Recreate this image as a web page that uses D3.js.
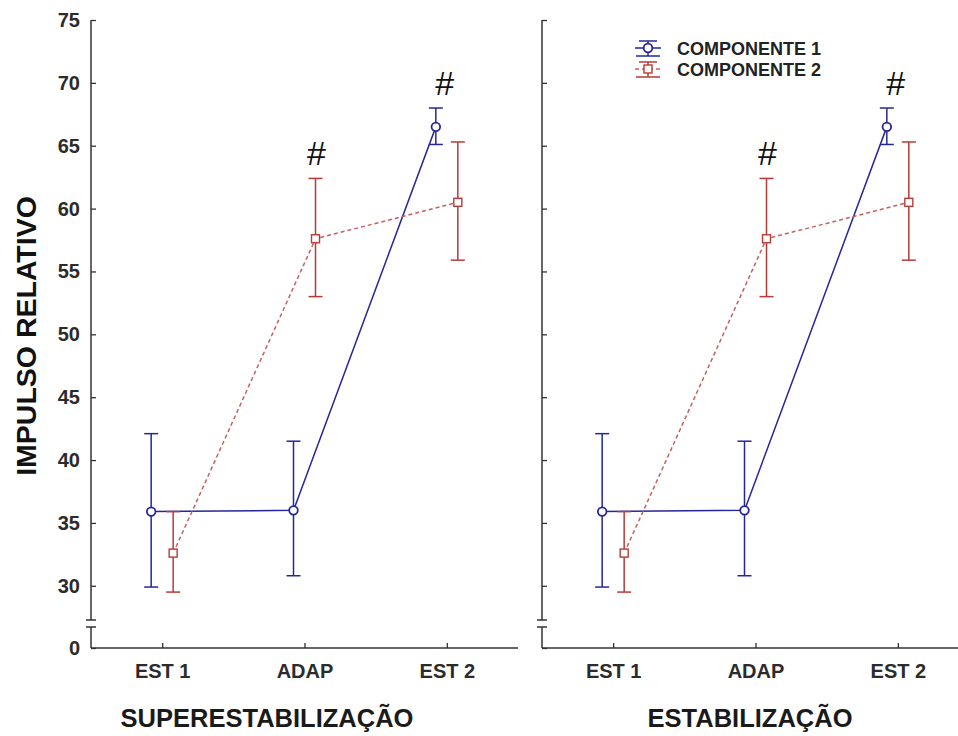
<!DOCTYPE html>
<html>
<head>
<meta charset="utf-8">
<script src="https://cdn.jsdelivr.net/npm/d3@7"></script>
<style>
  body { margin: 0; background: #fff; }
  svg { display: block; font-family: "Liberation Sans", Arial, sans-serif; }
  .tick text { font-weight: bold; fill: #2b2b2b; }
</style>
</head>
<body>
<svg id="graph" width="958" height="736"></svg>
<script>
// data
const categories = ["EST 1", "ADAP", "EST 2"];
const yTicks = [0, 30, 35, 40, 45, 50, 55, 60, 65, 70, 75];

const comp1Mean = [35.9, 36.0, 66.5];
const comp1Upper = [42.1, 41.5, 68.0];
const comp1Lower = [29.9, 30.8, 65.1];

const comp2Mean = [32.6, 57.6, 60.5];
const comp2Upper = [35.9, 62.4, 65.3];
const comp2Lower = [29.5, 53.0, 55.9];

const seriesNames = ["COMPONENTE 1", "COMPONENTE 2"];
const panelTitles = ["SUPERESTABILIZAÇÃO", "ESTABILIZAÇÃO"];
// "#" marks: category + which series it sits over
const sigMarks = [
  { cat: "ADAP", series: 1 },
  { cat: "EST 2", series: 0 },
];

const blue = "#26269a";
const red = "#b83a36";
const redLine = "#c46060";

const svg = d3.select("#graph");

// broken axis: 0 sits just under the break, the rest is linear from 30 up
const y = d3.scaleLinear().domain([0, 27.2, 75]).range([648, 621, 20]);

const series = [
  { name: seriesNames[0], mean: comp1Mean, up: comp1Upper, lo: comp1Lower, color: blue, line: blue, dash: null, shape: "circle", dx: -11 },
  { name: seriesNames[1], mean: comp2Mean, up: comp2Upper, lo: comp2Lower, color: red, line: redLine, dash: "4,3", shape: "square", dx: 11 },
];

const drawMarker = (g, shape, color, cx, cy) => {
  if (shape === "circle") {
    g.append("circle").attr("cx", cx).attr("cy", cy).attr("r", 4.3)
      .attr("fill", "#fff").attr("stroke", color).attr("stroke-width", 1.8);
  } else {
    g.append("rect").attr("x", cx - 4).attr("y", cy - 4).attr("width", 8).attr("height", 8)
      .attr("fill", "#fff").attr("stroke", color).attr("stroke-width", 1.4);
  }
};

const drawPanel = (left, right, xAxisEnd, showLabels, title, titleX) => {
  const g = svg.append("g");
  const x = d3.scalePoint().domain(categories).range([left, right]).padding(0.5);

  // y axis line with break
  g.append("line").attr("x1", left).attr("x2", left).attr("y1", y(75)).attr("y2", 620).attr("stroke", "#333").attr("stroke-width", 1.5);
  g.append("line").attr("x1", left).attr("x2", left).attr("y1", 627).attr("y2", y(0)).attr("stroke", "#333").attr("stroke-width", 1.5);
  [620, 627].forEach((by) => {
    g.append("line").attr("x1", left - 5).attr("x2", left + 5).attr("y1", by).attr("y2", by).attr("stroke", "#333").attr("stroke-width", 1.5);
  });

  const yAxis = d3.axisLeft(y).tickValues(yTicks).tickSize(-5).tickPadding(11)
    .tickFormat(showLabels ? d3.format("d") : "");
  const ya = g.append("g").attr("transform", `translate(${left},0)`).call(yAxis);
  ya.select(".domain").remove();
  ya.selectAll(".tick line").attr("stroke", "#333").attr("stroke-width", 1.3);
  ya.selectAll(".tick text").style("font-size", "20px");

  // x axis
  g.append("line").attr("x1", left).attr("x2", xAxisEnd).attr("y1", y(0)).attr("y2", y(0)).attr("stroke", "#333").attr("stroke-width", 1.5);
  const xAxis = d3.axisBottom(x).tickSize(-5).tickPadding(16);
  const xa = g.append("g").attr("transform", `translate(0,${y(0)})`).call(xAxis);
  xa.select(".domain").remove();
  xa.selectAll(".tick line").attr("stroke", "#333").attr("stroke-width", 1.3);
  xa.selectAll(".tick text").style("font-size", "20px");

  // lines
  series.forEach((s) => {
    const line = d3.line().x((d, i) => x(categories[i]) + s.dx).y((d) => y(d));
    g.append("path").datum(s.mean).attr("d", line).attr("fill", "none")
      .attr("stroke", s.line).attr("stroke-width", 1.5)
      .attr("stroke-dasharray", s.dash);
  });

  // error bars and markers
  series.forEach((s) => {
    s.mean.forEach((m, i) => {
      const cx = x(categories[i]) + s.dx;
      const eb = g.append("g").attr("stroke", s.color).attr("stroke-width", 1.5);
      eb.append("line").attr("x1", cx).attr("x2", cx).attr("y1", y(s.up[i])).attr("y2", y(s.lo[i]));
      [s.up[i], s.lo[i]].forEach((v) => {
        eb.append("line").attr("x1", cx - 7).attr("x2", cx + 7).attr("y1", y(v)).attr("y2", y(v));
      });
    });
    s.mean.forEach((m, i) => drawMarker(g, s.shape, s.color, x(categories[i]) + s.dx, y(m)));
  });

  // significance marks
  sigMarks.forEach((mk) => {
    const s = series[mk.series];
    const i = categories.indexOf(mk.cat);
    const mx = mk.series === 1 ? x(mk.cat) + s.dx + 1 : x(mk.cat) - 2;
    g.append("text").attr("x", mx).attr("y", y(s.up[i]) - 13)
      .attr("text-anchor", "middle").style("font-size", "34px").attr("fill", "#111")
      .text("#");
  });

  // panel title
  g.append("text").attr("x", titleX).attr("y", 727).attr("text-anchor", "middle")
    .style("font-size", "25.5px").style("font-weight", "bold").attr("fill", "#1a1a1a")
    .text(title);
  return g;
};

drawPanel(91, 518, 518, true, panelTitles[0], 267);
drawPanel(542, 969, 958, false, panelTitles[1], 750);

// y title
svg.append("text").attr("transform", "translate(36,336) rotate(-90)")
  .attr("text-anchor", "middle").style("font-size", "28.5px").style("font-weight", "bold")
  .attr("fill", "#111").text("IMPULSO RELATIVO");

// legend
const legend = svg.append("g").attr("transform", "translate(648,0)");
series.forEach((s, k) => {
  const cy = 48 + k * 21;
  const lg = legend.append("g").attr("stroke", s.color).attr("stroke-width", 1.5);
  lg.append("line").attr("x1", -9).attr("x2", 9).attr("y1", cy - 7).attr("y2", cy - 7);
  lg.append("line").attr("x1", -12).attr("x2", 12).attr("y1", cy + 8).attr("y2", cy + 8);
  lg.append("line").attr("x1", 0).attr("x2", 0).attr("y1", cy - 7).attr("y2", cy + 8);
  lg.append("line").attr("x1", -13).attr("x2", 13).attr("y1", cy).attr("y2", cy)
    .attr("stroke", s.line).attr("stroke-dasharray", s.dash);
  drawMarker(legend, s.shape, s.color, 0, cy);
  legend.append("text").attr("x", 29).attr("y", cy + 6.5)
    .style("font-size", "18px").style("font-weight", "bold").attr("fill", "#222")
    .text(s.name);
});
</script>
</body>
</html>
